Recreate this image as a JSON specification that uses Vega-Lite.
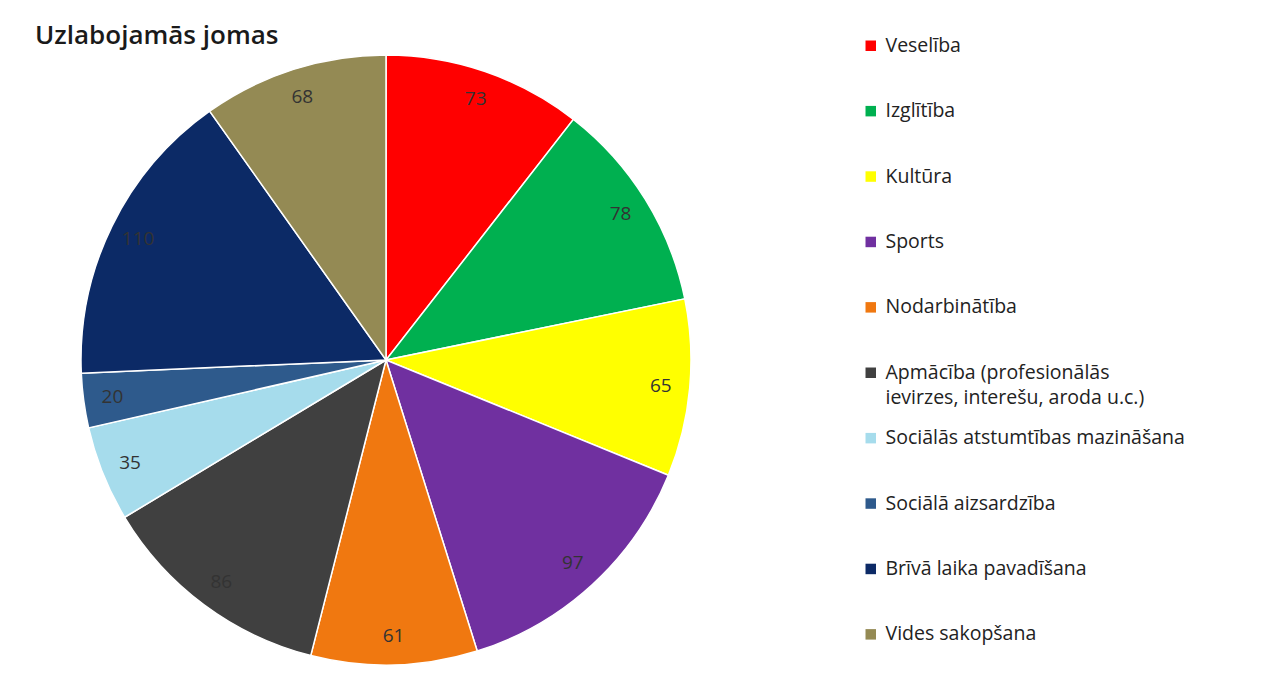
{
  "$schema": "https://vega.github.io/schema/vega-lite/v6.json",
  "autosize": {"type": "none"},
  "width": 612,
  "height": 610,
  "padding": {"left": 80, "top": 55, "right": 575, "bottom": 25},
  "background": "white",
  "config": {"style": {"guide-label": {"lineHeight": 25}}},
  "title": {"text": "Uzlabojamās jomas", "anchor": "start", "frame": "group", "dx": -45, "offset": -13, "fontSize": 26, "font": "Open Sans", "fontWeight": 600, "color": "#1a1a1a"},
  "data": {"values": [
    {"joma": "Veselība", "skaits": 73, "ord": 1},
    {"joma": "Izglītība", "skaits": 78, "ord": 2},
    {"joma": "Kultūra", "skaits": 65, "ord": 3},
    {"joma": "Sports", "skaits": 97, "ord": 4},
    {"joma": "Nodarbinātība", "skaits": 61, "ord": 5},
    {"joma": "Apmācība (profesionālās ievirzes, interešu, aroda u.c.)", "skaits": 86, "ord": 6},
    {"joma": "Sociālās atstumtības mazināšana", "skaits": 35, "ord": 7},
    {"joma": "Sociālā aizsardzība", "skaits": 20, "ord": 8},
    {"joma": "Brīvā laika pavadīšana", "skaits": 110, "ord": 9},
    {"joma": "Vides sakopšana", "skaits": 68, "ord": 10}
  ]},
  "encoding": {
    "theta": {"field": "skaits", "type": "quantitative", "stack": true},
    "order": {"field": "ord", "type": "quantitative"}
  },
  "layer": [
    {
      "mark": {"type": "arc", "stroke": "#ffffff", "strokeWidth": 1.5},
      "encoding": {
        "color": {
          "field": "joma", "type": "nominal",
          "scale": {
            "domain": ["Veselība", "Izglītība", "Kultūra", "Sports", "Nodarbinātība", "Apmācība (profesionālās ievirzes, interešu, aroda u.c.)", "Sociālās atstumtības mazināšana", "Sociālā aizsardzība", "Brīvā laika pavadīšana", "Vides sakopšana"],
            "range": ["#ff0000", "#00b050", "#ffff00", "#7030a0", "#f07810", "#404040", "#a6dcec", "#2e5a8c", "#0c2a66", "#948a54"]
          },
          "legend": {
            "title": null,
            "orient": "none",
            "legendX": 781,
            "legendY": -19,
            "symbolType": "square",
            "symbolSize": 110,
            "symbolStrokeWidth": 0,
            "labelFont": "Open Sans",
            "labelFontSize": 19.5,
            "labelColor": "#222222",
            "labelOffset": 5,
            "labelLimit": 400,
            "gridAlign": "all",
            "rowPadding": 19.4,
            "labelExpr": "datum.label == 'Apmācība (profesionālās ievirzes, interešu, aroda u.c.)' ? ['Apmācība (profesionālās', 'ievirzes, interešu, aroda u.c.)'] : datum.label"
          }
        }
      }
    },
    {
      "mark": {"type": "text", "radius": 276, "font": "Open Sans", "fontSize": 19, "color": "#333333"},
      "encoding": {"text": {"field": "skaits", "type": "quantitative"}}
    }
  ]
}
